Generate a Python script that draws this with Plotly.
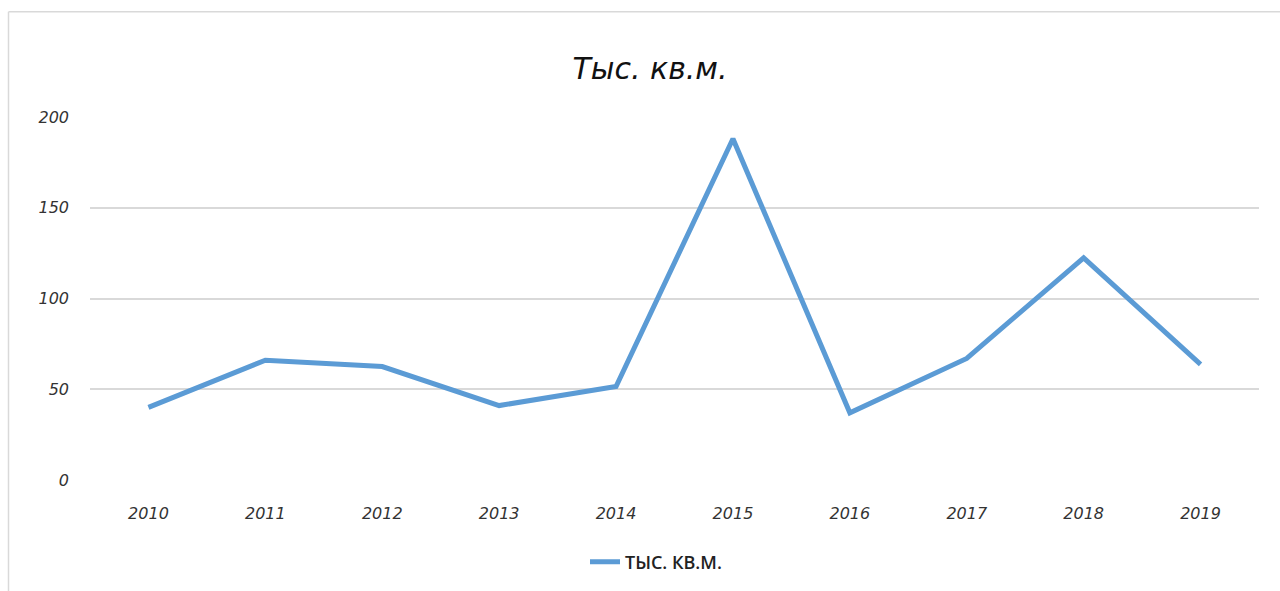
import plotly.graph_objects as go

years = ["2010", "2011", "2012", "2013", "2014", "2015", "2016", "2017", "2018", "2019"]
values = [40, 66, 62.5, 41, 51.5, 188, 37, 67, 122.4, 63.7]
series_name = "ТЫС. КВ.М."
title_text = "Тыс. кв.м."
y_ticks = [0, 50, 100, 150, 200]

W, H = 1280, 591
ML, MR, MT, MB = 90, 21, 117, 110
pw, ph = W - ML - MR, H - MT - MB

def px2paper_x(px):
    return (px - ML) / pw

def px2paper_y(py):
    return (H - MB - py) / ph

fig = go.Figure()
fig.add_trace(go.Scatter(
    x=years, y=values, mode="lines", name=series_name,
    line=dict(color="#5B9BD5", width=5, shape="linear"),
))

tick_font = dict(family="DejaVu Sans", size=16, color="#333333", style="italic")

fig.update_layout(
    width=W, height=H,
    margin=dict(l=ML, r=MR, t=MT, b=MB),
    paper_bgcolor="white", plot_bgcolor="white",
    title=dict(
        text=title_text,
        x=px2paper_x(650), xref="paper", xanchor="center",
        y=1 - 68 / H, yref="container", yanchor="middle",
        font=dict(family="DejaVu Sans", size=30, color="#111111", style="italic"),
    ),
    xaxis=dict(
        type="category", range=[-0.5, 9.5], showgrid=False, zeroline=False,
        showline=False, ticks="", tickfont=tick_font,
        ticklabelstandoff=22,
    ),
    yaxis=dict(
        range=[0, 200], tickvals=y_ticks, showgrid=True,
        gridcolor="#D9D9D9", gridwidth=1.5, zeroline=False,
        showline=False, ticks="", tickfont=tick_font,
        ticklabelstandoff=20,
    ),
    showlegend=True,
    legend=dict(
        orientation="h", x=px2paper_x(656), xanchor="center",
        y=px2paper_y(562), yanchor="middle",
        font=dict(family="Open Sans", size=18, color="#222222", weight=600),
    ),
    shapes=[
        dict(type="line", xref="paper", yref="paper",
             x0=px2paper_x(8.5), x1=px2paper_x(8.5),
             y0=px2paper_y(11.5), y1=px2paper_y(600),
             line=dict(color="#D9D9D9", width=1.5)),
        dict(type="line", xref="paper", yref="paper",
             x0=px2paper_x(8.5), x1=px2paper_x(1290),
             y0=px2paper_y(11.5), y1=px2paper_y(11.5),
             line=dict(color="#D9D9D9", width=1.5)),
    ],
)

fig.write_html("out.html", config={"displayModeBar": False},
               post_script="document.body.style.margin='0';")
